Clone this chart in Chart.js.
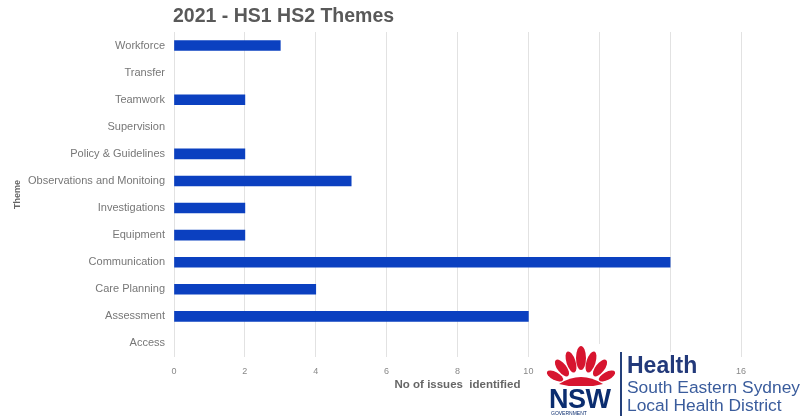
<!DOCTYPE html>
<html>
<head>
<meta charset="utf-8">
<script src="https://cdn.jsdelivr.net/npm/chart.js@4"></script>
<style>
  body { margin: 0; background: #fff; }
  #wrap { position: relative; width: 805px; height: 419px; font-family: Arial, "Liberation Sans", sans-serif; }
  #title { position: absolute; left: 173px; top: 4px; font-size: 19.5px; font-weight: bold; color: #595959; }
  .logo { position: absolute; background: #fff; white-space: nowrap; }
</style>
</head>
<body>
<div id="wrap">
  <canvas id="themeChart" width="805" height="419"></canvas>
  <div id="title">2021 - HS1 HS2 Themes</div>

  <!-- logo block -->
  <svg class="logo" style="left:545px;top:344px" width="72" height="48" viewBox="0 0 72 48">
    <g fill="#d7152f">
      <ellipse cx="36" cy="14" rx="5" ry="12"/>
      <ellipse cx="26" cy="18" rx="4.5" ry="11" transform="rotate(-18 26 18)"/>
      <ellipse cx="46" cy="18" rx="4.5" ry="11" transform="rotate(18 46 18)"/>
      <ellipse cx="17" cy="24" rx="4.5" ry="10" transform="rotate(-38 17 24)"/>
      <ellipse cx="55" cy="24" rx="4.5" ry="10" transform="rotate(38 55 24)"/>
      <ellipse cx="10" cy="32" rx="4" ry="9" transform="rotate(-62 10 32)"/>
      <ellipse cx="62" cy="32" rx="4" ry="9" transform="rotate(62 62 32)"/>
      <path d="M14 40 Q36 26 58 40 Q36 46 14 40 Z"/>
    </g>
  </svg>
  <div class="logo" style="left:549px;top:386px;font-size:27px;font-weight:bold;color:#0b2d6f;letter-spacing:-0.5px;line-height:26px">NSW</div>
  <div class="logo" style="left:551px;top:410px;font-size:5px;color:#0b2d6f;line-height:6px">GOVERNMENT</div>
  <div class="logo" style="left:620px;top:352px;width:2px;height:64px;background:#24407a"></div>
  <div class="logo" style="left:627px;top:352px;font-size:23px;font-weight:bold;color:#22397a;line-height:26px">Health</div>
  <div class="logo" style="left:627px;top:378px;font-size:17.4px;color:#3a5c9c;line-height:18px;background:transparent">South Eastern Sydney<br>Local Health District</div>
</div>

<script>
// ===== Data =====
const themes = [
    "Workforce",
    "Transfer",
    "Teamwork",
    "Supervision",
    "Policy & Guidelines",
    "Observations and Monitoing",
    "Investigations",
    "Equipment",
    "Communication",
    "Care Planning",
    "Assessment",
    "Access"
];
const issueCounts = [3, 0, 2, 0, 2, 5, 2, 2, 14, 4, 10, 0];
const xTicks = [0, 2, 4, 6, 8, 10, 12, 14, 16];

// ===== Chart =====
const ctx = document.getElementById("themeChart").getContext("2d");
new Chart(ctx, {
    type: "bar",
    data: {
        labels: themes,
        datasets: [{
            label: "No of issues identified",
            data: issueCounts,
            // zero-count themes get no visible sliver
            backgroundColor: (c) => (c.raw === 0 ? "rgba(0,0,0,0)" : "#0b40c0"),
            barThickness: 10
        }]
    },
    options: {
        indexAxis: "y",
        responsive: false,
        animation: false,
        layout: { padding: { top: 32, right: 64, bottom: 24, left: 0 } },
        plugins: {
            legend: { display: false },
            tooltip: { enabled: false }
        },
        scales: {
            x: {
                min: 0,
                max: 16,
                afterFit: (scale) => { scale.height = 38; },
                afterBuildTicks: (scale) => { scale.ticks = xTicks.map(v => ({ value: v })); },
                grid: { color: "#e2e2e2", drawTicks: false },
                border: { display: false },
                ticks: {
                    padding: 9,
                    color: "#888",
                    font: { family: "Arial, 'Liberation Sans', sans-serif", size: 9 }
                },
                title: {
                    display: true,
                    text: "No of issues  identified",
                    color: "#666",
                    padding: { top: 4, bottom: 3 },
                    font: { family: "Arial, 'Liberation Sans', sans-serif", size: 11.5, weight: "bold" }
                }
            },
            y: {
                afterFit: (scale) => { scale.width = 174; },
                grid: { display: false, drawTicks: false },
                border: { display: false },
                ticks: {
                    padding: 9,
                    color: "#777",
                    font: { family: "Arial, 'Liberation Sans', sans-serif", size: 11 }
                },
                title: {
                    display: true,
                    text: "Theme",
                    color: "#666",
                    padding: { top: 12, bottom: 4 },
                    font: { family: "Arial, 'Liberation Sans', sans-serif", size: 9, weight: "bold" }
                }
            }
        }
    }
});
</script>
</body>
</html>
